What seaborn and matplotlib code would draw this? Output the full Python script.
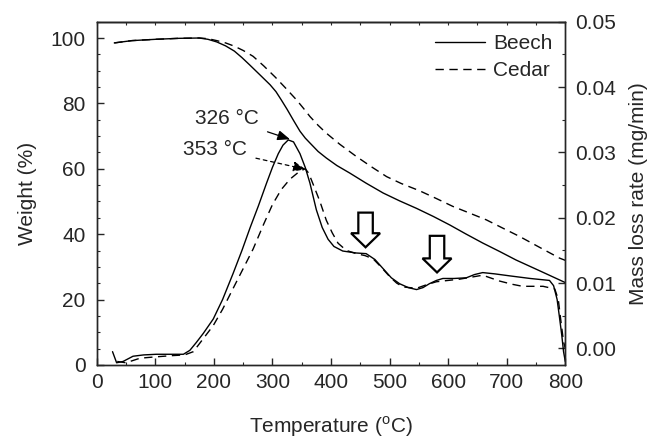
import numpy as np
import pandas as pd
import matplotlib
matplotlib.use("Agg")
import matplotlib.pyplot as plt
from matplotlib.lines import Line2D
from matplotlib.patches import FancyArrow
import seaborn as sns

# ---------------- data ----------------
beech_tg_T = [30, 60, 100, 140, 175, 190, 205, 220, 235, 248, 261, 280, 296, 306, 315,
              325, 336, 347, 356, 364, 378, 392, 410, 432, 460, 489, 517, 546, 575,
              603, 630, 659, 688, 716, 760, 800]
beech_tg_W = [98.5, 99.2, 99.6, 99.9, 100.0, 99.6, 98.8, 97.6, 96.0, 94.0, 91.8, 88.5,
              85.7, 83.6, 81.1, 78.2, 74.8, 71.5, 69.4, 67.9, 65.3, 63.3, 61.0, 58.7,
              55.6, 52.6, 50.2, 47.9, 45.4, 42.8, 40.1, 37.3, 34.7, 32.1, 28.5, 25.2]

cedar_tg_T = [30, 60, 100, 140, 175, 190, 205, 220, 235, 250, 267, 285, 305, 323, 341,
              353, 364, 378, 392, 415, 443, 470, 495, 520, 551, 580, 608, 636, 665,
              695, 722, 760, 790, 800]
cedar_tg_W = [98.5, 99.2, 99.6, 99.9, 100.0, 99.8, 99.2, 98.5, 97.5, 96.2, 94.4, 91.5,
              88.0, 84.6, 81.1, 78.5, 76.0, 73.3, 70.9, 67.5, 63.8, 60.5, 57.6, 55.5,
              53.3, 50.9, 48.5, 46.5, 44.4, 41.7, 39.3, 35.6, 32.7, 32.0]

beech_dtg_T = [27, 34, 45, 62, 80, 102, 130, 148, 159, 170, 182, 199, 215, 233, 248,
               262, 276, 290, 300, 310, 318, 327, 336, 347, 356, 364, 375, 385, 395,
               405, 420, 443, 460, 475, 489, 503, 517, 532, 546, 557, 568, 580, 591,
               610, 631, 645, 659, 680, 705, 740, 773, 780, 786, 790, 794, 797, 800]
beech_dtg_R = [-0.0005, -0.0022, -0.0020, -0.0012, -0.0010, -0.0009, -0.0009, -0.0009,
               -0.0003, 0.0009, 0.0023, 0.0045, 0.0075, 0.0115, 0.0150, 0.0185, 0.0218,
               0.0253, 0.0277, 0.0298, 0.0311, 0.0319, 0.0316, 0.0298, 0.0277, 0.0253,
               0.0212, 0.0185, 0.0167, 0.0156, 0.0149, 0.0146, 0.0145, 0.0136, 0.0122,
               0.0108, 0.0099, 0.0093, 0.0090, 0.0093, 0.0099, 0.0104, 0.0107, 0.0107,
               0.0108, 0.0113, 0.0116, 0.0114, 0.0111, 0.0107, 0.0104, 0.0096, 0.0075,
               0.0048, 0.0020, -0.0005, -0.0020]

cedar_dtg_T = [35, 50, 74, 100, 130, 150, 165, 182, 199, 215, 233, 250, 267, 285, 300,
               315, 330, 345, 356, 362, 370, 381, 392, 402, 412, 426, 443, 458, 472,
               486, 500, 512, 523, 546, 565, 580, 620, 659, 688, 710, 727, 762, 782,
               788, 793, 797, 800]
cedar_dtg_R = [-0.0020, -0.0022, -0.0015, -0.0013, -0.0011, -0.0010, -0.0005, 0.0015,
               0.0035, 0.0060, 0.0092, 0.0122, 0.0152, 0.0190, 0.0220, 0.0243, 0.0259,
               0.0270, 0.0275, 0.0268, 0.0250, 0.0225, 0.0196, 0.0177, 0.0161, 0.0150,
               0.0145, 0.0142, 0.0137, 0.0124, 0.0110, 0.0100, 0.0094, 0.0092, 0.0098,
               0.0102, 0.0106, 0.0112, 0.0103, 0.0098, 0.0095, 0.0095, 0.0091, 0.0075,
               0.0038, 0.0010, 0.0000]

series_names = ["Beech", "Cedar"]
peak_labels = ["326 \u00b0C", "353 \u00b0C"]
peak_T = [330, 357]
peak_R = [0.0320, 0.0274]
peak_text_T = [277, 257]
peak_text_R = [0.0352, 0.0305]

hollow_arrow_T = [459, 581]
hollow_arrow_top = [46.6, 39.5]
hollow_arrow_tip = [36.0, 28.3]

# ---------------- style ----------------
sns.set_style("ticks")
plt.rcParams["font.family"] = ["Liberation Sans", "DejaVu Sans"]
plt.rcParams["mathtext.fontset"] = "custom"
plt.rcParams["mathtext.rm"] = "Liberation Sans"
plt.rcParams["axes.linewidth"] = 1.0

FS = 15

fig = plt.figure(figsize=(6.53, 4.43), dpi=100)
ax = fig.add_axes([0.1481, 0.1761, 0.7176, 0.775])
ax2 = ax.twinx()

lw = 1.0
dash = (6, 4)

sns.lineplot(x=beech_tg_T, y=beech_tg_W, ax=ax, color="black", linewidth=lw, sort=False)
sns.lineplot(x=cedar_tg_T, y=cedar_tg_W, ax=ax, color="black", linewidth=lw, sort=False,
             dashes=False, linestyle=(0, dash))
sns.lineplot(x=beech_dtg_T, y=beech_dtg_R, ax=ax2, color="black", linewidth=lw, sort=False)
sns.lineplot(x=cedar_dtg_T, y=cedar_dtg_R, ax=ax2, color="black", linewidth=lw, sort=False,
             dashes=False, linestyle=(0, dash))

# axes limits / ticks
ax.set_xlim(0, 800)
ax.set_ylim(0, 105)
ax2.set_ylim(-0.00254, 0.05)
ax.set_xticks(np.arange(0, 801, 100))
ax.set_xticks(np.arange(0, 801, 50), minor=True)
ax.set_yticks(np.arange(0, 101, 20))
ax.set_yticks(np.arange(0, 106, 5), minor=True)
ax2.set_yticks([0.00, 0.01, 0.02, 0.03, 0.04, 0.05])
ax2.set_yticklabels(["0.00", "0.01", "0.02", "0.03", "0.04", "0.05"])
ax2.set_yticks(np.arange(0, 0.0501, 0.005), minor=True)

ax.tick_params(axis="both", which="major", direction="in", length=5, width=1.0,
               labelsize=FS, right=False, top=False)
ax.tick_params(axis="both", which="minor", direction="in", length=2.5, width=0.8,
               right=False, top=False)
ax.tick_params(axis="y", pad=8)
ax.tick_params(axis="x", pad=6)
ax2.tick_params(axis="y", which="major", direction="in", length=5, width=1.0,
                labelsize=FS, pad=7)
ax2.tick_params(axis="y", which="minor", direction="in", length=2.5, width=0.8)

top = ax.secondary_xaxis("top")
top.set_xticks(np.arange(0, 801, 50))
top.tick_params(direction="in", length=2.5, width=0.8, labeltop=False)

ax.set_xlabel(r"Temperature ($^{\mathrm{o}}$C)", fontsize=FS, labelpad=16)
ax.set_ylabel("Weight (%)", fontsize=FS, labelpad=10)
ax2.set_ylabel("Mass loss rate (mg/min)", fontsize=FS, labelpad=9)

for a in (ax, ax2):
    if a.get_legend() is not None:
        a.get_legend().remove()

# peak annotations
styles = ["-", (0, (3, 3))]
for lab, tx, ty, px, py, ls in zip(peak_labels, peak_text_T, peak_text_R, peak_T, peak_R, styles):
    ax2.annotate(lab, xy=(px, py), xytext=(tx, ty), ha="right", va="center", fontsize=FS,
                 arrowprops=dict(arrowstyle="-|>,head_length=0.5,head_width=0.2",
                                 color="black", lw=0.9, linestyle=ls,
                                 shrinkA=4, shrinkB=0))

# hollow arrows
for xt, y0, y1 in zip(hollow_arrow_T, hollow_arrow_top, hollow_arrow_tip):
    arr = FancyArrow(xt, y0, 0, y1 - y0, width=24.7, head_width=49.5, head_length=4.3,
                     length_includes_head=True, facecolor="white", edgecolor="black",
                     linewidth=1.6, zorder=5)
    ax.add_patch(arr)

handles = [Line2D([], [], color="black", lw=lw),
           Line2D([], [], color="black", lw=lw, linestyle=(0, dash))]
leg = ax2.legend(handles, series_names, loc="upper right", bbox_to_anchor=(1.0, 1.0),
                 frameon=False, fontsize=FS, handlelength=2.4, handletextpad=0.4,
                 labelspacing=0.4, borderaxespad=0.2)

fig.savefig("out.png", dpi=100)
